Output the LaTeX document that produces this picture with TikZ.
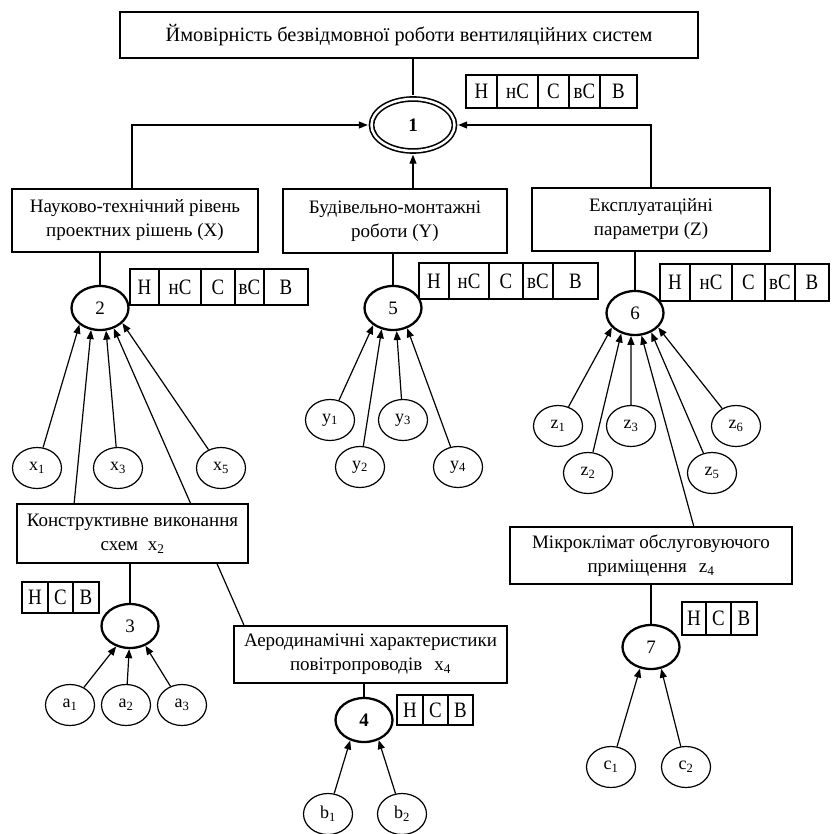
\documentclass[tikz,border=0pt]{standalone}
\usepackage{fontspec}
\setmainfont{Liberation Serif}
\newfontfamily\cellfont[FakeStretch=0.86]{Liberation Serif}
\usetikzlibrary{arrows.meta,shapes.geometric,calc}
\pgfdeclarelayer{bg}
\pgfsetlayers{bg,main}
\tikzset{
  bigbox/.style={draw, line width=2.3pt, fill=white, align=center, inner sep=0pt, font=\fontsize{19}{24}\selectfont},
  numcirc/.style={ellipse, draw, line width=2.3pt, fill=white, inner sep=0pt, minimum width=57pt, minimum height=44pt, font=\fontsize{19}{20}\selectfont},
  leaf/.style={ellipse, draw, line width=1.2pt, fill=white, inner sep=0pt, minimum width=49pt, minimum height=41pt, font=\fontsize{18}{20}\selectfont},
  cell/.style={draw, line width=1.3pt, fill=white, inner sep=0pt, font=\cellfont\fontsize{22}{24}\selectfont},
  arr/.style={line width=1.2pt, -{Triangle[length=9pt,width=7pt]}},
  link/.style={line width=1.2pt},
}
\newcommand\rcell[6]{\node[cell, minimum width={#3-#2}, minimum height={#5-#4}] (#1) at ({(#2+#3)/2},{(#4+#5)/2}) {#6};}
\newcommand\bbox[6]{\node[bigbox, minimum width={#3-#2}, minimum height={#5-#4}] (#1) at ({(#2+#3)/2},{(#4+#5)/2}) {#6};}
\begin{document}
\begin{tikzpicture}[x=1pt,y=-1pt]
\useasboundingbox (0,0) rectangle (832,834);

% main boxes
\bbox{title}{120}{698}{12}{58}{\fontsize{20.3}{24}\selectfont Ймовірність безвідмовної роботи вентиляційних систем}
\bbox{bX}{12}{258}{189}{252}{Науково-технічний рівень\\проектних рішень (X)}
\bbox{bY}{283}{507}{189}{253}{Будівельно-монтажні\\роботи (Y)}
\bbox{bZ}{532}{770}{188}{251}{Експлуатаційні\\параметри (Z)}
\bbox{bK}{17}{248}{504}{563}{Конструктивне виконання\\схем~ x\textsubscript{2}}
\bbox{bA}{234}{507}{626}{683}{Аеродинамічні характеристики\\повітропроводів\hspace{12pt}x\textsubscript{4}}
\bbox{bM}{510}{792}{527}{584}{Мікроклімат обслуговуючого\\приміщення\hspace{12pt}z\textsubscript{4}}

% central node
\node[ellipse, draw, double, double distance=2.5pt, line width=1.6pt, inner sep=0pt,
      minimum width=83pt, minimum height=52pt, outer sep=3.7pt,
      font=\bfseries\fontsize{19}{20}\selectfont] (c1) at (413,125) {1};

% numbered nodes
\node[numcirc] (c2) at (100,308) {2};
\node[numcirc] (c5) at (393,308) {5};
\node[numcirc] (c6) at (635,313) {6};
\node[numcirc] (c3) at (130,626) {3};
\node[numcirc, font=\bfseries\fontsize{19}{20}\selectfont] (c4) at (364,720) {4};
\node[numcirc] (c7) at (651,647) {7};

% leaves
\node[leaf] (x1) at (37,468) {x\textsubscript{1}};
\node[leaf] (x3) at (118,468) {x\textsubscript{3}};
\node[leaf] (x5) at (221,468) {x\textsubscript{5}};
\node[leaf] (y1) at (330,420) {y\textsubscript{1}};
\node[leaf] (y2) at (360,467) {y\textsubscript{2}};
\node[leaf] (y3) at (403,420) {y\textsubscript{3}};
\node[leaf] (y4) at (458,467) {y\textsubscript{4}};
\node[leaf] (z1) at (558,426) {z\textsubscript{1}};
\node[leaf] (z2) at (588,473) {z\textsubscript{2}};
\node[leaf] (z3) at (631,426) {z\textsubscript{3}};
\node[leaf] (z5) at (712,473) {z\textsubscript{5}};
\node[leaf] (z6) at (736,426) {z\textsubscript{6}};
\node[leaf] (a1) at (70,705) {a\textsubscript{1}};
\node[leaf] (a2) at (126,705) {a\textsubscript{2}};
\node[leaf] (a3) at (182,705) {a\textsubscript{3}};
\node[leaf] (b1) at (328,814) {b\textsubscript{1}};
\node[leaf] (b2) at (402,814) {b\textsubscript{2}};
\node[leaf] (k1) at (611,767) {c\textsubscript{1}};
\node[leaf] (k2) at (686,767) {c\textsubscript{2}};

% rating scales
\rcell{s1a}{466}{497}{75}{108}{Н}
\rcell{s1b}{497}{538}{75}{108}{нС}
\rcell{s1c}{538}{569}{75}{108}{С}
\rcell{s1d}{569}{600}{75}{108}{вС}
\rcell{s1e}{600}{637}{75}{108}{В}

\rcell{s2a}{130}{159}{269}{305}{Н}
\rcell{s2b}{159}{201}{269}{305}{нС}
\rcell{s2c}{201}{235}{269}{305}{С}
\rcell{s2d}{235}{264}{269}{305}{вС}
\rcell{s2e}{264}{308}{269}{305}{В}

\rcell{s5a}{419}{449}{263}{299}{Н}
\rcell{s5b}{449}{489}{263}{299}{нС}
\rcell{s5c}{489}{523}{263}{299}{С}
\rcell{s5d}{523}{553}{263}{299}{вС}
\rcell{s5e}{553}{598}{263}{299}{В}

\rcell{s6a}{660}{690}{264}{301}{Н}
\rcell{s6b}{690}{732}{264}{301}{нС}
\rcell{s6c}{732}{765}{264}{301}{С}
\rcell{s6d}{765}{795}{264}{301}{вС}
\rcell{s6e}{795}{829}{264}{301}{В}

\rcell{s3a}{22}{48}{582}{613}{Н}
\rcell{s3b}{48}{73}{582}{613}{С}
\rcell{s3c}{73}{99}{582}{613}{В}

\rcell{s4a}{397}{423}{695}{725}{Н}
\rcell{s4b}{423}{448}{695}{725}{С}
\rcell{s4c}{448}{473}{695}{725}{В}

\rcell{s7a}{682}{706}{602}{635}{Н}
\rcell{s7b}{706}{731}{602}{635}{С}
\rcell{s7c}{731}{757}{602}{635}{В}

% connectors to the top
\draw[link] (title.south -| c1.north) -- (c1.north);
\draw[arr] ([xshift=-3pt]bX.north) |- (c1.west);
\draw[arr] (bZ.north) |- (c1.east);
\draw[arr] (c1.south |- bY.north) -- (c1.south);

% box to numbered node
\draw[link] (bX.south -| c2.north) -- (c2.north);
\draw[link] (bY.south -| c5.north) -- (c5.north);
\draw[link] (bZ.south -| c6.north) -- (c6.north);
\draw[link] (bK.south -| c3.north) -- (c3.north);
\draw[link] (bA.south -| c4.north) -- (c4.north);
\draw[link] (bM.south -| c7.north) -- (c7.north);

% into node 2
\draw[arr] (x1) -- (c2.219);
\draw[arr] ($(bK.north west)!0.25!(bK.north east)$) -- (c2.248);
\draw[arr] (x3) -- (c2.285);
\begin{pgfonlayer}{bg}
\draw[arr] ($(bA.north west)!0.04!(bA.north east)$) -- (c2.304);
\end{pgfonlayer}
\draw[arr] (x5) -- (c2.326);

% into node 5
\draw[arr] (y1) -- (c5.221);
\draw[arr] (y2) -- (c5.242);
\draw[arr] (y3) -- (c5.279);
\draw[arr] (y4) -- (c5.305);

% into node 6
\draw[arr] (z1) -- (c6.212);
\draw[arr] (z2) -- (c6.236);
\draw[arr] (z3) -- (c6.260);
\draw[arr] ($(bM.north west)!0.65!(bM.north east)$) -- (c6.286);
\draw[arr] (z5) -- (c6.310);
\draw[arr] (z6) -- (c6.328);

% into node 3
\draw[arr] (a1) -- (c3.236);
\draw[arr] (a2) -- (c3.268);
\draw[arr] (a3) -- (c3.308);

% into node 4
\draw[arr] (b1) -- (c4.236);
\draw[arr] (b2) -- (c4.306);

% into node 7
\draw[arr] (k1) -- (c7.243);
\draw[arr] (k2) -- (c7.295);
\end{tikzpicture}
\end{document}
